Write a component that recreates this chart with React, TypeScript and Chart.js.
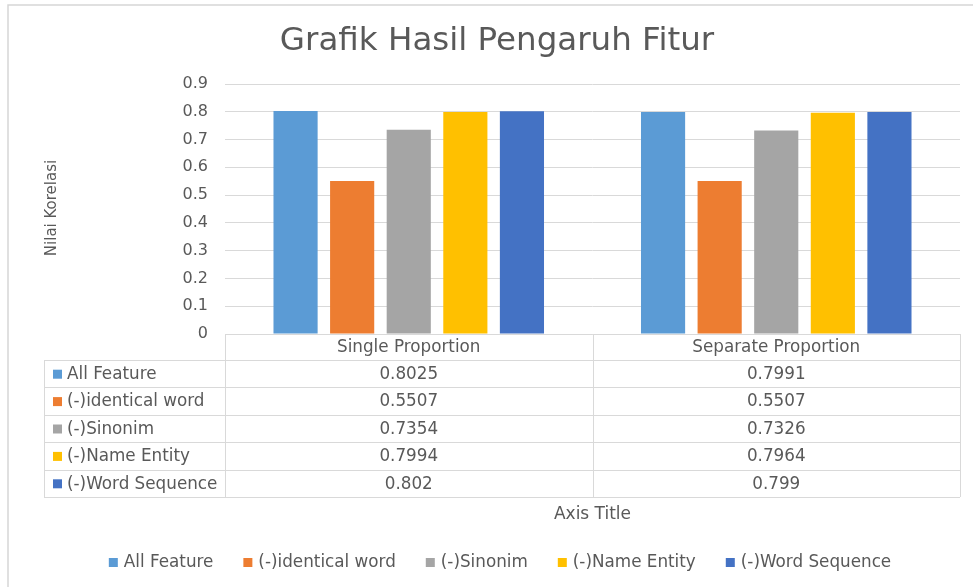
import React, { useEffect, useRef } from "react";
import { Chart, registerables } from "chart.js";

Chart.register(...registerables);

const chartTitle = "Grafik Hasil Pengaruh Fitur";
const yAxisTitle = "Nilai Korelasi";
const xAxisTitle = "Axis Title";
const categories = ["Single Proportion", "Separate Proportion"];
const seriesNames = ["All Feature", "(-)identical word", "(-)Sinonim", "(-)Name Entity", "(-)Word Sequence"];
const allFeature = [0.8025, 0.7991];
const identicalWord = [0.5507, 0.5507];
const sinonim = [0.7354, 0.7326];
const nameEntity = [0.7994, 0.7964];
const wordSequence = [0.802, 0.799];
const seriesColors = ["#5B9BD5", "#ED7D31", "#A5A5A5", "#FFC000", "#4472C4"];
const yTicks = [0, 0.1, 0.2, 0.3, 0.4, 0.5, 0.6, 0.7, 0.8, 0.9];

const FONT = "'DejaVu Sans', 'Liberation Sans', sans-serif";
const TEXT = "#595959";
const LINE = "#d9d9d9";

export default function App() {
  const ref = useRef<HTMLCanvasElement>(null);

  useEffect(() => {
    document.body.style.margin = "0";
    const series = [allFeature, identicalWord, sinonim, nameEntity, wordSequence];

    const decor = {
      id: "decor",
      afterDraw(chart: any) {
        const ctx = chart.ctx as CanvasRenderingContext2D;
        const area = chart.chartArea;
        const xs = chart.scales.x;
        ctx.save();
        // outer frame (top & left visible)
        ctx.strokeStyle = "#d6d6d6";
        ctx.lineWidth = 1.5;
        ctx.beginPath();
        ctx.moveTo(8, 587);
        ctx.lineTo(8, 5);
        ctx.lineTo(973, 5);
        ctx.stroke();

        // title
        ctx.fillStyle = TEXT;
        ctx.font = `32.5px ${FONT}`;
        ctx.textAlign = "center";
        ctx.textBaseline = "middle";
        ctx.fillText(chartTitle, 497, 42);

        // y axis title
        ctx.save();
        ctx.translate(52, 208);
        ctx.rotate(-Math.PI / 2);
        ctx.font = `15px ${FONT}`;
        ctx.fillText(yAxisTitle, 0, 0);
        ctx.restore();

        // data table
        const left = area.left;
        const right = area.right;
        const top = area.bottom;
        const headerH = 26;
        const rowH = 27.4;
        const labelLeft = 44;
        const p0 = xs.getPixelForValue(0);
        const p1 = xs.getPixelForValue(1);
        const mid = (p0 + p1) / 2;
        const bottom = top + headerH + rowH * seriesNames.length;
        ctx.strokeStyle = LINE;
        ctx.lineWidth = 1;
        ctx.beginPath();
        ctx.moveTo(left, top + 0.5);
        ctx.lineTo(right, top + 0.5);
        for (let i = 0; i <= seriesNames.length; i++) {
          const y = Math.round(top + headerH + rowH * i) + 0.5;
          ctx.moveTo(labelLeft, y);
          ctx.lineTo(right, y);
        }
        [left, mid, right].forEach((x) => {
          const xx = Math.round(x) + 0.5;
          ctx.moveTo(xx, top);
          ctx.lineTo(xx, bottom);
        });
        ctx.moveTo(labelLeft + 0.5, top + headerH);
        ctx.lineTo(labelLeft + 0.5, bottom);
        ctx.stroke();

        ctx.fillStyle = TEXT;
        ctx.font = `16.8px ${FONT}`;
        ctx.textAlign = "center";
        ctx.textBaseline = "middle";
        const centers = [(left + mid) / 2, (mid + right) / 2];
        categories.forEach((c, i) => ctx.fillText(c, centers[i], top + headerH / 2 + 1));
        seriesNames.forEach((name, r) => {
          const cy = top + headerH + rowH * r + rowH / 2 + 1;
          ctx.fillStyle = seriesColors[r];
          ctx.fillRect(53, cy - 5, 9, 9);
          ctx.fillStyle = TEXT;
          ctx.textAlign = "left";
          ctx.fillText(name, 67, cy);
          ctx.textAlign = "center";
          series[r].forEach((v, c) => ctx.fillText(String(v), centers[c], cy));
        });

        // x axis title
        ctx.font = `17px ${FONT}`;
        ctx.fillText(xAxisTitle, (left + right) / 2, 515);

        // legend
        ctx.font = `16.8px ${FONT}`;
        const sq = 9;
        const gapText = 6;
        const gapItem = 30;
        const widths = seriesNames.map((n) => sq + gapText + ctx.measureText(n).width);
        const total = widths.reduce((a, b) => a + b, 0) + gapItem * (seriesNames.length - 1);
        let x = 500 - total / 2;
        const ly = 563;
        ctx.textAlign = "left";
        seriesNames.forEach((n, i) => {
          ctx.fillStyle = seriesColors[i];
          ctx.fillRect(x, ly - 5, sq, sq);
          ctx.fillStyle = TEXT;
          ctx.fillText(n, x + sq + gapText, ly);
          x += widths[i] + gapItem;
        });
        ctx.restore();
      },
    };

    const chart = new Chart(ref.current!, {
      type: "bar",
      data: {
        labels: categories,
        datasets: seriesNames.map((name, i) => ({
          label: name,
          data: series[i],
          backgroundColor: seriesColors[i],
          borderWidth: 0,
        })),
      },
      options: {
        responsive: false,
        animation: false,
        maintainAspectRatio: false,
        layout: { padding: { left: 0, top: 84, right: 13, bottom: 253 } },
        datasets: { bar: { categoryPercentage: 0.77, barPercentage: 0.78 } },
        plugins: { legend: { display: false }, title: { display: false }, tooltip: { enabled: false } },
        scales: {
          x: { display: false },
          y: {
            min: 0,
            max: 0.9,
            afterFit: (s: any) => {
              s.width = 225;
            },
            afterBuildTicks: (s: any) => {
              s.ticks = yTicks.map((v) => ({ value: v }));
            },
            border: { display: false },
            grid: { color: LINE, lineWidth: 1, drawTicks: false },
            ticks: {
              padding: 17,
              color: TEXT,
              font: { family: FONT, size: 16 },
              callback: (v: any) => String(v),
            },
          },
        },
      },
      plugins: [decor],
    });
    return () => chart.destroy();
  }, []);

  return (
    <div style={{ position: "relative", width: 973, height: 587, background: "#fff" }}>
      <canvas ref={ref} width={973} height={587} style={{ display: "block" }} />
    </div>
  );
}
